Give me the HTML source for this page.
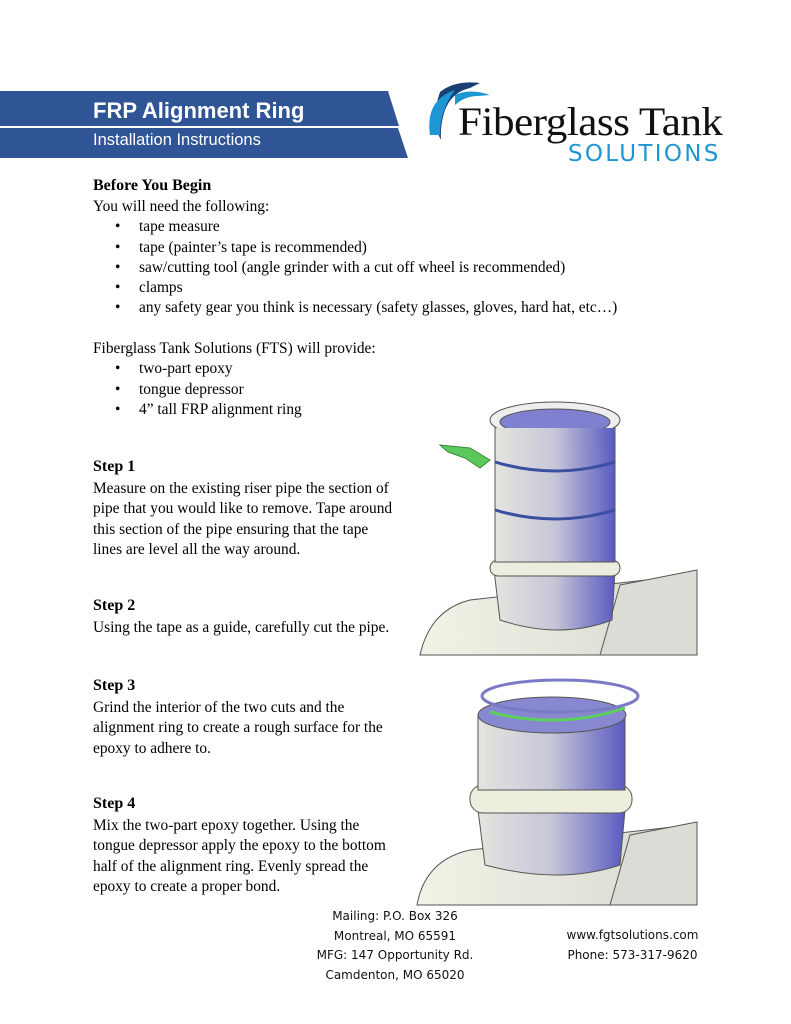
<!DOCTYPE html>
<html><head><meta charset="utf-8"><style>
body{margin:0;width:791px;height:1024px;background:#fff;position:relative;overflow:hidden;font-family:"Liberation Serif",serif;color:#000}
.t{position:absolute;font-size:15.4px;line-height:20.3px;white-space:nowrap}
.h{position:absolute;font-size:16px;font-weight:bold}
ul{margin:0;padding:0;list-style:none}
li{position:relative;padding-left:46px}
li:before{content:"•";position:absolute;left:22px}
.f{position:absolute;font-family:"DejaVu Sans","Liberation Sans",sans-serif;font-size:12px;line-height:19.5px;text-align:center;color:#111}
</style></head><body>
<svg style="position:absolute;left:0;top:0" width="791" height="1024">
<polygon points="0,91 388,91 399,126 0,126" fill="#2f5597"/>
<polygon points="0,128 398,128 408,158 0,158" fill="#2f5597"/>
<line x1="0" y1="127" x2="399" y2="127" stroke="#fff" stroke-width="1.5"/>
<path d="M440,92 Q455,80 480,83 L470,88 Q452,92 445,110 Q440,125 441,140 Q430,120 440,92Z" fill="#1b3f73"/>
<path d="M430,135 Q425,100 455,90 Q440,110 440,135Z" fill="#1e96d3"/>
<path d="M455,95 Q470,88 490,95 L478,96 Q465,96 455,105Z" fill="#1e96d3"/>
<defs><linearGradient id="g" x1="0" x2="1"><stop offset="0" stop-color="#e4e4de"/><stop offset=".5" stop-color="#c6c6d8"/><stop offset="1" stop-color="#5a5ac0"/></linearGradient>
<linearGradient id="t" x1="0" x2="1"><stop offset="0" stop-color="#f2f2e6"/><stop offset="1" stop-color="#d8d8d0"/></linearGradient></defs>
<g stroke="#555" stroke-width="1">
<path d="M420,655 Q430,610 470,600 L690,575 L697,655Z" fill="url(#t)"/>
<path d="M620,585 L697,570 L697,655 L600,655Z" fill="#dcdcd6"/>
<path d="M494,570 L615,570 L612,620 Q560,640 500,620Z" fill="url(#g)"/>
<rect x="490" y="560" width="130" height="16" rx="8" fill="#ececdf"/>
<rect x="495" y="420" width="120" height="142" fill="url(#g)"/>
<ellipse cx="555" cy="420" rx="65" ry="18" fill="#eee"/>
<ellipse cx="555" cy="422" rx="55" ry="13" fill="#8080d0"/>
<rect x="496" y="428" width="118" height="20" fill="url(#g)" stroke="none"/>
<path d="M495,462 Q555,480 615,462 M495,510 Q555,528 615,510" stroke="#3b4fa0" stroke-width="3" fill="none"/>
<path d="M440,445 L470,448 L490,460 L480,468 L465,458 L448,452Z" fill="#5cc85c" stroke="#3a8a3a"/>
<path d="M417,905 Q425,860 470,850 L690,825 L697,905Z" fill="url(#t)"/>
<path d="M630,835 L697,822 L697,905 L610,905Z" fill="#dcdcd6"/>
<path d="M478,810 L625,810 L620,865 Q560,885 485,865Z" fill="url(#g)"/>
<rect x="470" y="785" width="162" height="28" rx="13" fill="#eeeedf"/>
<rect x="478" y="715" width="147" height="75" fill="url(#g)"/>
<ellipse cx="552" cy="715" rx="74" ry="18" fill="#8888d0"/>
<ellipse cx="560" cy="696" rx="78" ry="16" fill="none" stroke-width="3" stroke="#7a7ac8"/>
<path d="M490,712 Q560,730 625,708" stroke="#5cd05c" stroke-width="3" fill="none"/>
</g>
</svg>
<div style="position:absolute;left:93px;top:98px;font-family:'Liberation Sans',sans-serif;font-size:22px;color:#fff;font-weight:600">FRP Alignment Ring</div>
<div style="position:absolute;left:93px;top:131px;font-family:'Liberation Sans',sans-serif;font-size:16.5px;color:#fff">Installation Instructions</div>
<div style="position:absolute;left:458px;top:98px;font-family:'Liberation Serif',serif;font-size:40px;color:#111;letter-spacing:-0.5px;transform:scaleX(1.08);transform-origin:left top">Fiberglass Tank</div>
<div style="position:absolute;left:568px;top:141px;font-family:'DejaVu Sans',sans-serif;font-size:23px;color:#1e96d3;letter-spacing:2.3px">SOLUTIONS</div>
<div class="h" style="left:93px;top:177px">Before You Begin</div>
<div class="t" style="left:93px;top:197px">You will need the following:
<ul><li>tape measure</li><li>tape (painter’s tape is recommended)</li><li>saw/cutting tool (angle grinder with a cut off wheel is recommended)</li><li>clamps</li><li>any safety gear you think is necessary (safety glasses, gloves, hard hat, etc…)</li></ul></div>
<div class="t" style="left:93px;top:339px">Fiberglass Tank Solutions (FTS) will provide:
<ul><li>two-part epoxy</li><li>tongue depressor</li><li>4” tall FRP alignment ring</li></ul></div>
<div class="h" style="left:93px;top:458px">Step 1</div>
<div class="t" style="left:93px;top:479px">Measure on the existing riser pipe the section of<br>pipe that you would like to remove. Tape around<br>this section of the pipe ensuring that the tape<br>lines are level all the way around.</div>
<div class="h" style="left:93px;top:597px">Step 2</div>
<div class="t" style="left:93px;top:618px">Using the tape as a guide, carefully cut the pipe.</div>
<div class="h" style="left:93px;top:677px">Step 3</div>
<div class="t" style="left:93px;top:698px">Grind the interior of the two cuts and the<br>alignment ring to create a rough surface for the<br>epoxy to adhere to.</div>
<div class="h" style="left:93px;top:795px">Step 4</div>
<div class="t" style="left:93px;top:816px">Mix the two-part epoxy together. Using the<br>tongue depressor apply the epoxy to the bottom<br>half of the alignment ring. Evenly spread the<br>epoxy to create a proper bond.</div>
<div class="f" style="left:300px;top:907px;width:190px">Mailing: P.O. Box 326<br>Montreal, MO 65591<br>MFG: 147 Opportunity Rd.<br>Camdenton, MO 65020</div>
<div class="f" style="left:550px;top:926px;width:165px">www.fgtsolutions.com<br>Phone: 573-317-9620</div>
</body></html>
